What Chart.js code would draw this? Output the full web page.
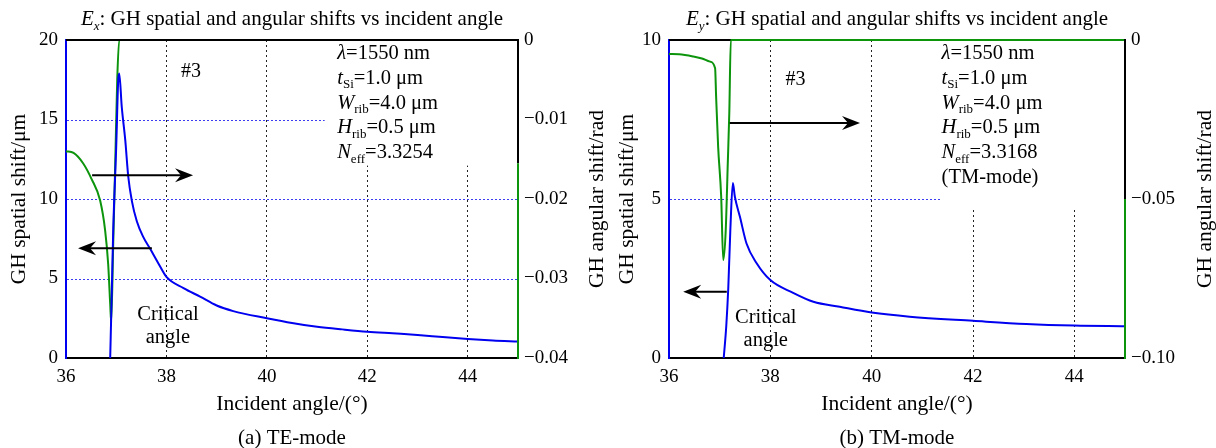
<!DOCTYPE html>
<html>
<head>
<meta charset="utf-8">
<script src="https://cdn.jsdelivr.net/npm/chart.js@4.4.1/dist/chart.umd.min.js"></script>
<style>
  body { margin: 0; background: #fff; }
  .wrap { display: flex; width: 1216px; height: 448px; }
  .panel { width: 608px; height: 448px; }
</style>
</head>
<body>
<div class="wrap">
  <div class="panel"><canvas id="chartTE" width="608" height="448"></canvas></div>
  <div class="panel"><canvas id="chartTM" width="608" height="448"></canvas></div>
</div>
<script>
// --- Dados ---
const xTicks = [36, 38, 40, 42, 44];

// (a) TE-mode
const teSpatialAngle = [36.88, 36.91, 36.94, 37.0, 37.04, 37.06, 37.11, 37.18, 37.24, 37.31, 37.41, 37.54, 37.67, 37.84, 38.0, 38.34, 38.67, 39.0, 39.33, 40.0, 40.5, 41.0, 41.5, 42.0, 42.5, 43.0, 43.5, 44.0, 44.5, 45.0];
const teSpatialShift = [0, 3.9, 8.0, 13.3, 17.5, 17.9, 15.8, 13.7, 11.4, 9.9, 8.6, 7.6, 6.9, 5.95, 5.1, 4.4, 3.86, 3.3, 2.95, 2.5, 2.2, 1.97, 1.8, 1.65, 1.55, 1.45, 1.32, 1.2, 1.1, 1.03];
const teAngularAngle = [36.0, 36.15, 36.34, 36.51, 36.68, 36.78, 36.84, 36.88, 36.9, 36.94, 36.98, 37.02, 37.06, 45.0];
const teAngularShift = [-0.014, -0.0142, -0.0155, -0.0175, -0.0202, -0.024, -0.0282, -0.0332, -0.0355, -0.0257, -0.0156, -0.005, 0, 0];
const teLeftTicks = [0, 5, 10, 15, 20];
const teRightTicks = [0, -0.01, -0.02, -0.03, -0.04];

// (b) TM-mode
const tmSpatialAngle = [37.08, 37.13, 37.17, 37.21, 37.26, 37.3, 37.4, 37.53, 37.73, 38.0, 38.45, 38.85, 39.37, 40.0, 40.75, 42.0, 43.05, 44.0, 45.0];
const tmSpatialShift = [0, 1.0, 2.2, 4.0, 5.5, 5.07, 4.44, 3.6, 2.98, 2.45, 2.05, 1.77, 1.61, 1.43, 1.3, 1.17, 1.07, 1.02, 1.0];
const tmAngularAngle = [36.0, 36.2, 36.48, 36.65, 36.81, 36.91, 36.93, 36.97, 37.03, 37.07, 37.12, 37.16, 37.19, 37.22, 45.0];
const tmAngularShift = [-0.0044, -0.0045, -0.0052, -0.0058, -0.0068, -0.0089, -0.0178, -0.0336, -0.0493, -0.0692, -0.0597, -0.0388, -0.023, 0, 0];
const tmLeftTicks = [0, 5, 10];
const tmRightTicks = [0, -0.05, -0.10];

// --- Estilos ---
const SERIF = "'Liberation Serif', 'Times New Roman', serif";
const BLUE = '#0000f0';
const GREEN = '#0c940c';
const GRID_BLUE = '#3c3cf0';

const pts = (xs, ys) => xs.map((x, i) => ({ x, y: ys[i] }));
const fmtRight = v => v === 0 ? '0' : '\u2212' + Math.abs(v).toFixed(2);

// Texto com itálico / subscrito
function drawRich(ctx, parts, x, y, size, align) {
    const sub = Math.round(size * 0.62);
    const fontOf = (p) => `${p[1].includes('i') ? 'italic ' : ''}${p[1].includes('s') ? sub : size}px ${SERIF}`;
    let total = 0;
    parts.forEach(p => { ctx.font = fontOf(p); total += ctx.measureText(p[0]).width; });
    let cx = align === 'center' ? x - total / 2 : x;
    ctx.textAlign = 'left';
    ctx.textBaseline = 'alphabetic';
    parts.forEach(p => {
        ctx.font = fontOf(p);
        const dy = p[1].includes('s') ? size * 0.22 : 0;
        ctx.fillText(p[0], cx, y + dy);
        cx += ctx.measureText(p[0]).width;
    });
}

function arrow(ctx, x1, y1, x2, y2) {
    const dir = Math.sign(x2 - x1);
    ctx.strokeStyle = '#000';
    ctx.fillStyle = '#000';
    ctx.lineWidth = 2;
    ctx.beginPath(); ctx.moveTo(x1, y1); ctx.lineTo(x2 - dir * 8, y2); ctx.stroke();
    ctx.beginPath();
    ctx.moveTo(x2, y2);
    ctx.lineTo(x2 - dir * 18, y2 - 7);
    ctx.lineTo(x2 - dir * 12, y2);
    ctx.lineTo(x2 - dir * 18, y2 + 7);
    ctx.closePath(); ctx.fill();
}

const panelPlugin = {
    id: 'panel',
    beforeDatasetsDraw(chart, args, o) {
        const { ctx, chartArea: a, scales } = chart;
        ctx.save();
        // grade horizontal azul pontilhada (eixo esquerdo)
        ctx.strokeStyle = GRID_BLUE;
        ctx.lineWidth = 1;
        ctx.setLineDash([2, 2]);
        scales.y.ticks.forEach(t => {
            if (t.value <= scales.y.min || t.value >= scales.y.max) return;
            const y = Math.round(scales.y.getPixelForValue(t.value)) + 0.5;
            ctx.beginPath(); ctx.moveTo(a.left + 1, y); ctx.lineTo(a.right - 1, y); ctx.stroke();
        });
        ctx.setLineDash([]);
        // caixa do texto cobre a grade
        ctx.fillStyle = '#fff';
        o.masks.forEach(m => {
            const x1 = scales.x.getPixelForValue(m[0]), x2 = scales.x.getPixelForValue(m[1]);
            const y1 = scales.y.getPixelForValue(m[2]), y2 = scales.y.getPixelForValue(m[3]);
            ctx.fillRect(Math.min(x1, x2), Math.min(y1, y2), Math.abs(x2 - x1), Math.abs(y2 - y1));
        });
        if (!o.topOver) {
            ctx.strokeStyle = '#000'; ctx.lineWidth = 2;
            ctx.beginPath(); ctx.moveTo(a.left, a.top); ctx.lineTo(a.right, a.top); ctx.stroke();
        }
        ctx.restore();
    },
    afterDatasetsDraw(chart, args, o) {
        const { ctx, chartArea: a, scales } = chart;
        const X = v => scales.x.getPixelForValue(v);
        const Y = v => scales.y.getPixelForValue(v);
        ctx.save();
        ctx.lineWidth = 2;
        if (o.topOver) {
            ctx.strokeStyle = '#000';
            ctx.beginPath(); ctx.moveTo(a.left, a.top); ctx.lineTo(a.right, a.top); ctx.stroke();
        }
        // eixo direito: preto em cima, verde embaixo
        const ys = scales.y2.getPixelForValue(o.rightSplit);
        ctx.strokeStyle = '#000';
        ctx.beginPath(); ctx.moveTo(a.right, a.top - 1); ctx.lineTo(a.right, ys); ctx.stroke();
        ctx.strokeStyle = GREEN;
        ctx.beginPath(); ctx.moveTo(a.right, ys); ctx.lineTo(a.right, a.bottom + 1); ctx.stroke();

        // setas
        o.arrows.forEach(r => arrow(ctx, X(r[0]), Y(r[2]), X(r[1]), Y(r[2])));

        ctx.fillStyle = '#000';
        // #3
        drawRich(ctx, [['#3', '']], X(o.tag[0]), Y(o.tag[1]) + 7, 20, 'left');
        // angulo critico
        drawRich(ctx, [['Critical', '']], X(o.critical[0]), Y(o.critical[1]) + 7, 20.5, 'center');
        drawRich(ctx, [['angle', '']], X(o.critical[0]), Y(o.critical[1]) + 30, 20.5, 'center');
        // parametros
        o.params.forEach((line, i) => {
            drawRich(ctx, line, X(o.paramPos[0]), Y(o.paramPos[1]) + 7 + i * 24.8, 20.5, 'left');
        });

        // titulos
        const cx = (a.left + a.right) / 2;
        drawRich(ctx, o.title, cx, 25, 21, 'center');
        drawRich(ctx, [['Incident angle/(\u00b0)', '']], cx, 410, 21.5, 'center');
        drawRich(ctx, [[o.caption, '']], cx, 444, 21, 'center');

        const cy = (a.top + a.bottom) / 2;
        ctx.save();
        ctx.translate(18, cy); ctx.rotate(-Math.PI / 2);
        drawRich(ctx, [['GH spatial shift/\u03bcm', '']], 0, 7, 21.5, 'center');
        ctx.restore();
        ctx.save();
        ctx.translate(chart.width - 12, cy); ctx.rotate(-Math.PI / 2);
        drawRich(ctx, [['GH angular shift/rad', '']], 0, 7, 21.5, 'center');
        ctx.restore();
        ctx.restore();
    }
};

function makeChart(id, p) {
    const tickFont = { family: SERIF, size: 19 };
    return new Chart(document.getElementById(id), {
        type: 'line',
        data: {
            datasets: [
                { label: 'spatial', data: pts(p.sx, p.sy), yAxisID: 'y', borderColor: BLUE, borderWidth: 2, pointRadius: 0, cubicInterpolationMode: 'monotone', clip: false },
                { label: 'angular', data: pts(p.ax, p.ay), yAxisID: 'y2', borderColor: GREEN, borderWidth: 2, pointRadius: 0, cubicInterpolationMode: 'monotone', clip: false }
            ]
        },
        plugins: [panelPlugin],
        options: {
            responsive: false,
            animation: false,
            devicePixelRatio: 1,
            layout: { padding: { top: 40, left: 0, right: 0, bottom: 60 } },
            plugins: {
                legend: { display: false },
                tooltip: { enabled: false },
                panel: p.panel
            },
            scales: {
                x: {
                    type: 'linear', min: 36, max: 45,
                    afterBuildTicks: s => { s.ticks = xTicks.map(v => ({ value: v })); },
                    afterFit: s => { s.height = 30; },
                    grid: { color: c => c.tick && c.tick.value === 36 ? 'rgba(0,0,0,0)' : '#222', lineWidth: 1, drawTicks: false },
                    border: { color: '#000', width: 2, dash: [2, 3] },
                    ticks: { color: '#000', font: tickFont, padding: 8, maxRotation: 0, autoSkip: false }
                },
                y: {
                    position: 'left', min: 0, max: p.leftMax,
                    afterBuildTicks: s => { s.ticks = p.leftTicks.map(v => ({ value: v })); },
                    afterFit: s => { s.width = p.leftW; },
                    grid: { drawOnChartArea: false, drawTicks: false },
                    border: { color: BLUE, width: 2 },
                    ticks: { color: '#000', font: tickFont, padding: 8 }
                },
                y2: {
                    position: 'right', min: p.rightMin, max: 0,
                    afterBuildTicks: s => { s.ticks = p.rightTicks.map(v => ({ value: v })); },
                    afterFit: s => { s.width = p.rightW; },
                    grid: { display: false, drawTicks: false },
                    border: { display: false },
                    ticks: { color: '#000', font: tickFont, padding: 6, callback: fmtRight }
                }
            }
        }
    });
}

makeChart('chartTE', {
    sx: teSpatialAngle, sy: teSpatialShift, ax: teAngularAngle, ay: teAngularShift,
    leftMax: 20, leftTicks: teLeftTicks, rightMin: -0.04, rightTicks: teRightTicks,
    leftW: 66, rightW: 90,
    panel: {
        topOver: true,
        rightSplit: -0.0155,
        masks: [[41.15, 45, 20, 12.1]],
        arrows: [[36.52, 38.53, 11.5], [37.71, 36.24, 6.9]],
        tag: [38.29, 18.1],
        critical: [38.03, 2.83],
        paramPos: [41.4, 19.25],
        params: [
            [['\u03bb', 'i'], ['=1550 nm', '']],
            [['t', 'i'], ['Si', 's'], ['=1.0 \u03bcm', '']],
            [['W', 'i'], ['rib', 's'], ['=4.0 \u03bcm', '']],
            [['H', 'i'], ['rib', 's'], ['=0.5 \u03bcm', '']],
            [['N', 'i'], ['eff', 's'], ['=3.3254', '']]
        ],
        title: [['E', 'i'], ['x', 'is'], [': GH spatial and angular shifts vs incident angle', '']],
        caption: '(a) TE-mode'
    }
});

makeChart('chartTM', {
    sx: tmSpatialAngle, sy: tmSpatialShift, ax: tmAngularAngle, ay: tmAngularShift,
    leftMax: 10, leftTicks: tmLeftTicks, rightMin: -0.10, rightTicks: tmRightTicks,
    leftW: 61, rightW: 91,
    panel: {
        topOver: false,
        rightSplit: -0.05,
        masks: [[41.35, 45, 10, 4.7]],
        arrows: [[37.2, 39.77, 7.39], [37.14, 36.28, 2.08]],
        tag: [38.3, 8.8],
        critical: [37.91, 1.32],
        paramPos: [41.38, 9.62],
        params: [
            [['\u03bb', 'i'], ['=1550 nm', '']],
            [['t', 'i'], ['Si', 's'], ['=1.0 \u03bcm', '']],
            [['W', 'i'], ['rib', 's'], ['=4.0 \u03bcm', '']],
            [['H', 'i'], ['rib', 's'], ['=0.5 \u03bcm', '']],
            [['N', 'i'], ['eff', 's'], ['=3.3168', '']],
            [['(TM-mode)', '']]
        ],
        title: [['E', 'i'], ['y', 'is'], [': GH spatial and angular shifts vs incident angle', '']],
        caption: '(b) TM-mode'
    }
});
</script>
</body>
</html>
